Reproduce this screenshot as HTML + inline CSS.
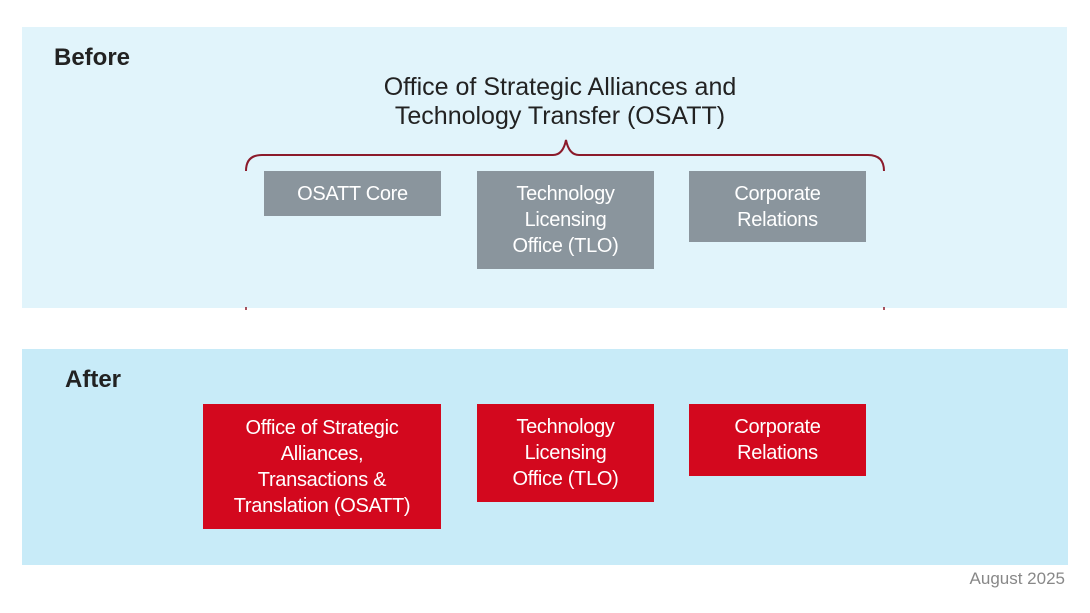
<!DOCTYPE html>
<html><head><style>
body{margin:0;width:1090px;height:613px;background:#fff;position:relative;font-family:"Liberation Sans",sans-serif;overflow:hidden}
.p{position:absolute}
.box{position:absolute;color:#fff;font-size:20px;line-height:26px;text-align:center;display:flex;align-items:center;justify-content:center;letter-spacing:-0.3px}
.g{background:#8a959d}
.r{background:#d3081e}
</style></head><body>
<div class="p" style="left:22px;top:27px;width:1045px;height:281px;background:#e1f4fb"></div>
<div class="p" style="left:22px;top:349px;width:1046px;height:216px;background:#c8ebf8"></div>
<div class="p" style="left:54px;top:44px;font-size:24px;font-weight:bold;color:#222">Before</div>
<div class="p" style="left:65px;top:366px;font-size:24px;font-weight:bold;color:#222">After</div>
<div class="p" style="left:310px;top:73px;width:500px;text-align:center;font-size:25px;line-height:29px;color:#222">Office of Strategic Alliances and<br>Technology Transfer (OSATT)</div>
<svg class="p" style="left:0;top:0" width="1090" height="613">
<path d="M246,171 Q246,155 262,155 L553,155 Q563,155 566,140 Q569,155 579,155 L868,155 Q884,155 884,171" fill="none" stroke="#8b1a2a" stroke-width="2"/>
<line x1="246" y1="307" x2="246" y2="310" stroke="#8b1a2a" stroke-width="1.5"/>
<line x1="884" y1="307" x2="884" y2="310" stroke="#8b1a2a" stroke-width="1.5"/>
</svg>
<div class="box g" style="left:264px;top:171px;width:177px;height:45px">OSATT Core</div>
<div class="box g" style="left:477px;top:171px;width:177px;height:98px">Technology<br>Licensing<br>Office (TLO)</div>
<div class="box g" style="left:689px;top:171px;width:177px;height:71px">Corporate<br>Relations</div>
<div class="box r" style="left:203px;top:404px;width:238px;height:125px">Office of Strategic<br>Alliances,<br>Transactions &amp;<br>Translation (OSATT)</div>
<div class="box r" style="left:477px;top:404px;width:177px;height:98px">Technology<br>Licensing<br>Office (TLO)</div>
<div class="box r" style="left:689px;top:404px;width:177px;height:72px">Corporate<br>Relations</div>
<div class="p" style="right:25px;top:569px;font-size:17px;color:#888">August 2025</div>
</body></html>
